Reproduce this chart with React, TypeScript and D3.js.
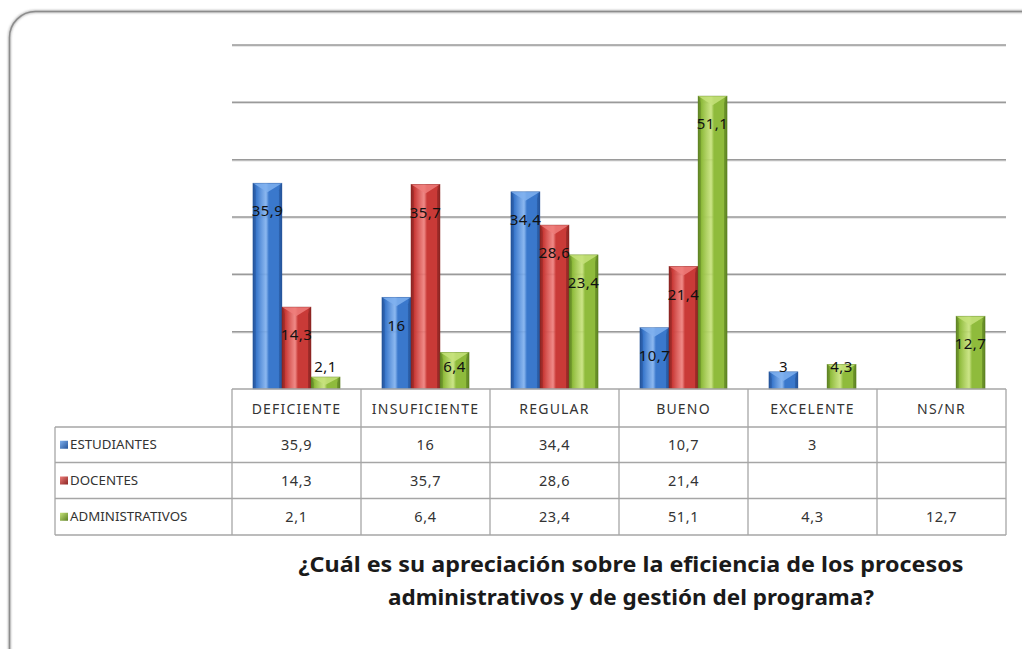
import React from "react";
import * as d3 from "d3";

const categories = ["DEFICIENTE", "INSUFICIENTE", "REGULAR", "BUENO", "EXCELENTE", "NS/NR"];
const seriesNames = ["ESTUDIANTES", "DOCENTES", "ADMINISTRATIVOS"];
const estudiantes: (number | null)[] = [35.9, 16, 34.4, 10.7, 3, null];
const docentes: (number | null)[] = [14.3, 35.7, 28.6, 21.4, null, null];
const administrativos: (number | null)[] = [2.1, 6.4, 23.4, 51.1, 4.3, 12.7];
const yTicks = [10, 20, 30, 40, 50, 60];
const titleLines = [
  "¿Cuál es su apreciación sobre la eficiencia de los procesos",
  "administrativos  y de gestión del programa?",
];

const seriesValues = [estudiantes, docentes, administrativos];
const colors = [
  { base: "#3a78cc", light: "#7fb0ee", dark: "#24549a" },
  { base: "#c93a37", light: "#ee7d7a", dark: "#8a2422" },
  { base: "#8fbb3c", light: "#c6e27a", dark: "#5c8122" },
];

const fmt = (v: number) => String(v).replace(".", ",");

export default function App() {
  const W = 1022, H = 649;
  const plotL = 232, plotR = 1006, base = 389, top = 45;
  const tableLeft = 55;
  const rowLines = [427, 462.5, 498.5, 535];
  const x = d3.scaleBand<string>().domain(categories).range([plotL, plotR]);
  const inner = d3
    .scaleBand<string>()
    .domain(seriesNames)
    .range([0, x.bandwidth()])
    .paddingInner(0)
    .paddingOuter(0.72);
  const y = d3.scaleLinear().domain([0, 60]).range([base, top]);
  const font = "'Noto Sans', 'Open Sans', sans-serif";
  const bw = inner.bandwidth();
  const titleWidths = [665, 486];

  return (
    <svg width={W} height={H} style={{ position: "absolute", left: 0, top: 0 }} fontFamily={font}>
      <defs>
        {colors.map((c, i) => (
          <linearGradient key={i} id={`g${i}`} x1="0" x2="1" y1="0" y2="0">
            <stop offset="0" stopColor={c.dark} />
            <stop offset="0.12" stopColor={c.base} />
            <stop offset="0.45" stopColor={c.light} stopOpacity={0.9} />
            <stop offset="0.55" stopColor={c.base} />
            <stop offset="0.88" stopColor={c.base} />
            <stop offset="1" stopColor={c.dark} />
          </linearGradient>
        ))}
        {colors.map((c, i) => (
          <linearGradient key={"l" + i} id={`lg${i}`} x1="0" x2="1" y1="0" y2="1">
            <stop offset="0" stopColor={c.light} />
            <stop offset="1" stopColor={c.dark} />
          </linearGradient>
        ))}
        <filter id="sh" x="-10%" y="-10%" width="120%" height="120%">
          <feGaussianBlur stdDeviation="0.8" />
        </filter>
      </defs>
      <rect width={W} height={H} fill="#fff" />
      {/* outer rounded frame */}
      <rect x={9.5} y={11.5} width={1040} height={670} rx={26} fill="none" stroke="#bdbdbd" strokeWidth={3} filter="url(#sh)" />
      <rect x={9.5} y={11.5} width={1040} height={670} rx={26} fill="none" stroke="#8c8c8c" strokeWidth={1.5} />

      {/* gridlines */}
      {yTicks.map((t) => (
        <g key={t}>
          <line x1={plotL} x2={plotR} y1={y(t) + 1} y2={y(t) + 1} stroke="#e0e0e0" strokeWidth={1.5} />
          <line x1={plotL} x2={plotR} y1={y(t)} y2={y(t)} stroke="#9a9a9a" strokeWidth={1.5} />
        </g>
      ))}

      {/* bars */}
      {categories.map((cat, ci) =>
        seriesNames.map((s, si) => {
          const v = seriesValues[si][ci];
          if (v == null) return null;
          const x0 = (x(cat) as number) + (inner(s) as number);
          const yt = y(v);
          const h = base - yt;
          const b = Math.min(7, h / 2);
          const c = colors[si];
          return (
            <g key={cat + s}>
              <rect x={x0} y={yt} width={bw} height={h} fill={`url(#g${si})`} />
              <polygon
                points={`${x0},${yt} ${x0 + bw},${yt} ${x0 + bw / 2},${yt + b * 1.3}`}
                fill={c.light}
                opacity={0.85}
              />
              <polygon
                points={`${x0},${yt} ${x0 + 3},${yt + b} ${x0 + 3},${base} ${x0},${base}`}
                fill={c.dark}
                opacity={0.35}
              />
              <polygon
                points={`${x0 + bw},${yt} ${x0 + bw - 3},${yt + b} ${x0 + bw - 3},${base} ${x0 + bw},${base}`}
                fill={c.dark}
                opacity={0.5}
              />
              <rect x={x0} y={yt} width={bw} height={h} fill="none" stroke={c.dark} strokeWidth={0.6} opacity={0.6} />
            </g>
          );
        })
      )}

      {/* data labels */}
      {categories.map((cat, ci) =>
        seriesNames.map((s, si) => {
          const v = seriesValues[si][ci];
          if (v == null) return null;
          const cx = (x(cat) as number) + (inner(s) as number) + bw / 2;
          const ly = Math.min(y(v) + 28, 367);
          return (
            <text key={"t" + cat + s} x={cx} y={ly} dy="0.35em" textAnchor="middle" fontSize={15} letterSpacing={0.4} fill="#111">
              {fmt(v)}
            </text>
          );
        })
      )}

      {/* data table */}
      <g stroke="#a6a6a6" strokeWidth={1.3} fill="none">
        <line x1={plotL} x2={plotR} y1={base} y2={base} />
        {rowLines.map((ry) => (
          <line key={ry} x1={tableLeft} x2={plotR} y1={ry} y2={ry} />
        ))}
        <line x1={tableLeft} x2={tableLeft} y1={rowLines[0]} y2={rowLines[3]} />
        {categories.map((cat) => (
          <line key={cat} x1={x(cat) as number} x2={x(cat) as number} y1={base} y2={rowLines[3]} />
        ))}
        <line x1={plotR} x2={plotR} y1={base} y2={rowLines[3]} />
      </g>
      {categories.map((cat) => (
        <text
          key={"h" + cat}
          x={(x(cat) as number) + x.bandwidth() / 2}
          y={(base + rowLines[0]) / 2 + 1}
          dy="0.35em"
          textAnchor="middle"
          fontSize={14}
          letterSpacing={1.2}
          fill="#333"
        >
          {cat}
        </text>
      ))}
      {seriesNames.map((s, si) => {
        const ry = (rowLines[si] + rowLines[si + 1]) / 2;
        return (
          <g key={"r" + s}>
            <rect x={60} y={ry - 4} width={8} height={8} fill={`url(#lg${si})`} />
            <text x={70} y={ry} dy="0.35em" fontSize={13.3} fill="#333">
              {s}
            </text>
            {categories.map((cat, ci) => {
              const v = seriesValues[si][ci];
              if (v == null) return null;
              return (
                <text
                  key={cat}
                  x={(x(cat) as number) + x.bandwidth() / 2}
                  y={ry}
                  dy="0.35em"
                  textAnchor="middle"
                  fontSize={14.5}
                  letterSpacing={0.6}
                  fill="#333"
                >
                  {fmt(v)}
                </text>
              );
            })}
          </g>
        );
      })}

      {/* title */}
      {titleLines.map((t, i) => (
        <text
          key={i}
          x={631}
          y={564 + i * 33}
          dy="0.35em"
          textAnchor="middle"
          fontSize={22}
          fontWeight="bold"
          fill="#1a1a1a"
          textLength={titleWidths[i]}
          lengthAdjust="spacingAndGlyphs"
        >
          {t}
        </text>
      ))}
    </svg>
  );
}
